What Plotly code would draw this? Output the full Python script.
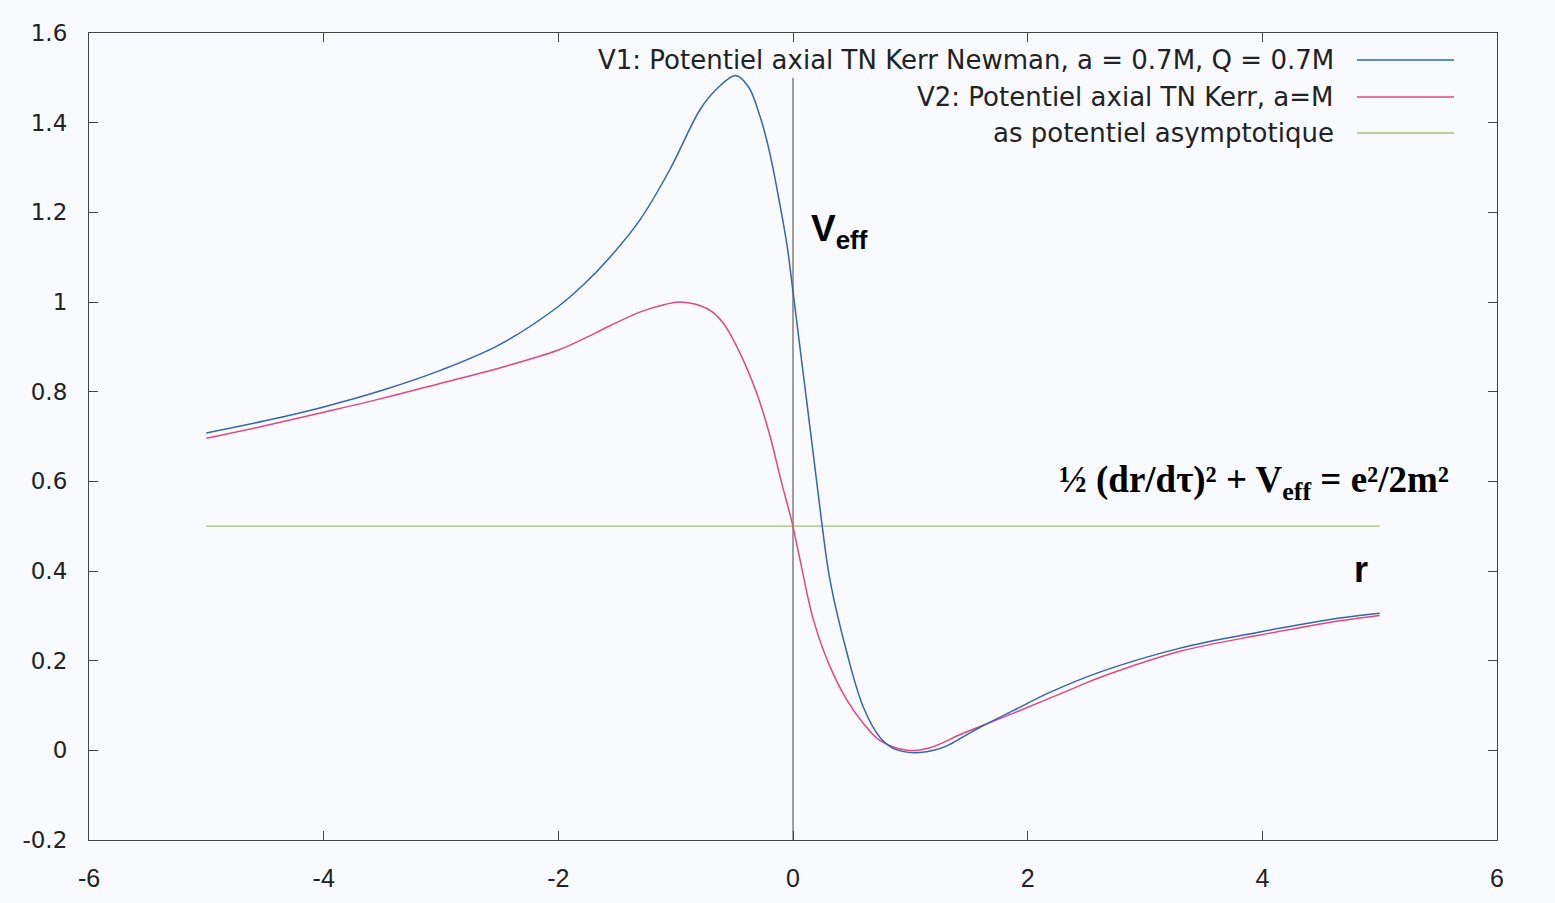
import plotly.graph_objects as go

# ---------------- data ----------------
x_v1 = [-5.0, -4.5, -4.0, -3.5, -3.0, -2.5, -2.0, -1.78, -1.56, -1.3, -1.05, -0.79,
        -0.65, -0.49, -0.38, -0.28, -0.2, -0.11, -0.05, 0.0, 0.085, 0.17, 0.25,
        0.315, 0.46, 0.6, 0.74, 0.85, 0.97, 1.08, 1.2, 1.31, 1.45, 1.59, 1.88,
        2.17, 2.62, 3.3, 3.98, 4.66, 5.0]
v1 = [0.708, 0.735, 0.766, 0.803, 0.848, 0.905, 0.99, 1.04, 1.10, 1.185, 1.295,
      1.43, 1.475, 1.505, 1.48, 1.413, 1.335, 1.215, 1.125, 1.023, 0.845, 0.667,
      0.498, 0.38, 0.217, 0.096, 0.029, 0.005, -0.004, -0.005, 0.0, 0.01, 0.03,
      0.051, 0.089, 0.127, 0.175, 0.228, 0.264, 0.295, 0.306]

x_v2 = [-5.0, -4.5, -4.0, -3.5, -3.0, -2.5, -2.0, -1.8, -1.56, -1.3, -1.1, -0.96,
        -0.73, -0.6, -0.45, -0.3, -0.2, -0.1, -0.01, 0.06, 0.17, 0.31, 0.46, 0.6,
        0.74, 0.97, 1.16, 1.45, 1.88, 2.45, 2.62, 3.3, 3.98, 4.66, 5.0]
v2 = [0.696, 0.724, 0.754, 0.785, 0.819, 0.853, 0.893, 0.916, 0.947, 0.978, 0.994,
      1.0, 0.985, 0.955, 0.885, 0.79, 0.705, 0.60, 0.51, 0.425, 0.295, 0.19,
      0.112, 0.06, 0.022, 0.0, 0.005, 0.038, 0.083, 0.145, 0.163, 0.221, 0.257,
      0.289, 0.301]

x_asym = [-5.0, 5.0]
v_asym = [0.5, 0.5]

x_vline = [0.0, 0.0]
y_vline = [-0.2, 1.5]

x_ticks = [-6, -4, -2, 0, 2, 4, 6]
x_tick_text = ["-6", "-4", "-2", "0", "2", "4", "6"]
y_ticks = [-0.2, 0, 0.2, 0.4, 0.6, 0.8, 1, 1.2, 1.4, 1.6]
y_tick_text = ["-0.2", "0", "0.2", "0.4", "0.6", "0.8", "1", "1.2", "1.4", "1.6"]

legend_labels = ["V1: Potentiel axial TN Kerr Newman, a = 0.7M, Q = 0.7M",
                 "V2: Potentiel axial TN Kerr, a=M",
                 "as potentiel asymptotique"]

# ---------------- styles ----------------
C_V1 = "#3565ad"
C_V2 = "#e2487c"
C_AS = "#a3bf72"
C_VL = "#808080"
BG = "#f8fafd"
FRAME = "#444444"
SANS = "DejaVu Sans, Liberation Sans, Arial, sans-serif"

fig = go.Figure()
fig.add_trace(go.Scatter(x=x_vline, y=y_vline, mode="lines",
                         line=dict(color=C_VL, width=1.5), showlegend=False))
fig.add_trace(go.Scatter(x=x_asym, y=v_asym, mode="lines",
                         line=dict(color=C_AS, width=1.3), showlegend=False))
fig.add_trace(go.Scatter(x=x_v2, y=v2, mode="lines",
                         line=dict(color=C_V2, width=1.5, shape="spline", smoothing=1.0),
                         showlegend=False))
fig.add_trace(go.Scatter(x=x_v1, y=v1, mode="lines",
                         line=dict(color=C_V1, width=1.5, shape="spline", smoothing=1.0),
                         showlegend=False))

W, H = 1555, 903
ml, mr, mt, mb = 89, 58, 33, 63
pw, ph = W - ml - mr, H - mt - mb


def px2paper_x(px):
    return (px - ml) / pw


def px2paper_y(py):
    return (H - mb - py) / ph


annotations = []
shapes = []
legend_rows_y = [60, 97, 133]
colors = [C_V1, C_V2, C_AS]
for lab, ry, col in zip(legend_labels, legend_rows_y, colors):
    annotations.append(dict(xref="paper", yref="paper", x=px2paper_x(1336), y=px2paper_y(ry),
                            text=lab, showarrow=False, xanchor="right", yanchor="middle",
                            font=dict(family=SANS, size=26, color="#222222")))
    shapes.append(dict(type="line", xref="paper", yref="paper",
                       x0=px2paper_x(1357), x1=px2paper_x(1454),
                       y0=px2paper_y(ry), y1=px2paper_y(ry),
                       line=dict(color=col, width=1.5)))

annotations.append(dict(x=0.14, y=1.158, xref="x", yref="y", showarrow=False,
                        xanchor="left", yanchor="middle",
                        text="<b>V<sub>eff</sub></b>",
                        font=dict(family="Liberation Sans, Arial, sans-serif", size=37,
                                  color="#000000")))
annotations.append(dict(x=3.93, y=0.598, xref="x", yref="y", showarrow=False,
                        xanchor="center", yanchor="middle",
                        text="<b>½ (dr/dτ)² + V<sub>eff</sub> = e²/2m²</b>",
                        font=dict(family="Liberation Serif, Times New Roman, serif", size=37,
                                  color="#000000")))
annotations.append(dict(x=4.84, y=0.404, xref="x", yref="y", showarrow=False,
                        xanchor="center", yanchor="middle",
                        text="<b>r</b>",
                        font=dict(family="Liberation Sans, Arial, sans-serif", size=36,
                                  color="#000000")))

axis_common = dict(showgrid=False, zeroline=False, showline=True, linecolor=FRAME,
                   linewidth=1.2, mirror="ticks", ticks="inside", ticklen=9,
                   tickcolor=FRAME, tickwidth=1.2)

fig.update_layout(
    width=W, height=H,
    margin=dict(l=ml, r=mr, t=mt, b=mb, pad=0),
    paper_bgcolor=BG, plot_bgcolor=BG,
    xaxis=dict(range=[-6, 6], tickvals=x_ticks, ticktext=x_tick_text,
               ticklabelstandoff=16,
               tickfont=dict(family="Liberation Sans Narrow, Liberation Sans, Arial Narrow, sans-serif",
                             size=25, color="#222222"),
               **axis_common),
    yaxis=dict(range=[-0.2, 1.6], tickvals=y_ticks, ticktext=y_tick_text,
               ticklabelstandoff=16,
               tickfont=dict(family=SANS, size=23, color="#222222"),
               **axis_common),
    annotations=annotations, shapes=shapes, showlegend=False,
)

fig.write_html("out.html")
